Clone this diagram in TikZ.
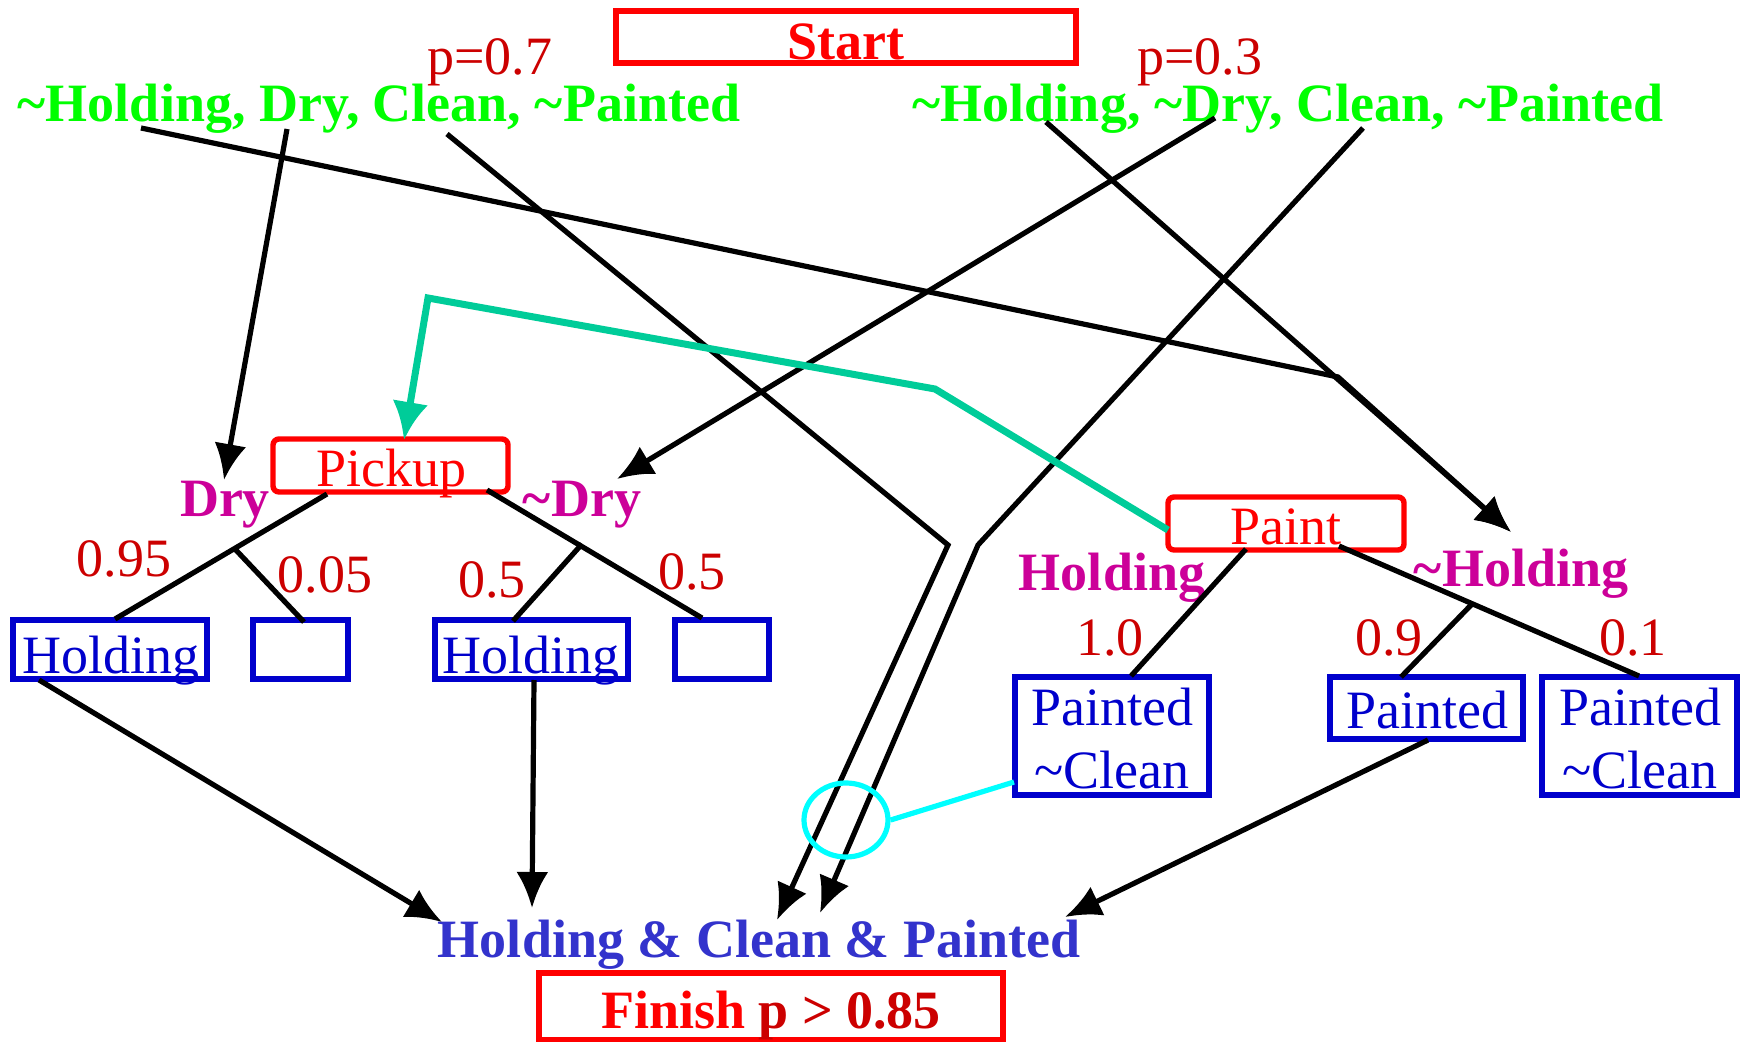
\documentclass[tikz,border=0pt]{standalone}
\usepackage{fontspec}
\setmainfont{Liberation Serif}
\usetikzlibrary{arrows.meta,shapes.geometric}

\definecolor{stategreen}{HTML}{00FF00}
\definecolor{probred}{HTML}{CC0000}
\definecolor{actred}{HTML}{FF0000}
\definecolor{condmag}{HTML}{CC0099}
\definecolor{boxblue}{HTML}{0000CC}
\definecolor{goalblue}{HTML}{3333CC}
\definecolor{linkteal}{HTML}{00CC99}
\definecolor{markcyan}{HTML}{00FFFF}

\begin{document}
\begin{tikzpicture}[x=0.5pt,y=-0.5pt,
  txt/.style={inner sep=0pt, outer sep=0pt, anchor=base, font=\fontsize{27}{31.5}\selectfont},
  btxt/.style={inner sep=0pt, outer sep=0pt, anchor=base, font=\fontsize{27}{31.5}\selectfont\bfseries},
  wire/.style={line width=2.6pt, black},
  arr/.style={wire, -{Latex[length=18pt,width=16pt]}},
  framebox/.style={draw, line width=2.7pt, inner sep=0pt, outer sep=0pt},
  actbox/.style={framebox, draw=actred, rounded corners=3pt},
  outbox/.style={framebox, draw=boxblue},
]
\useasboundingbox (0,0) rectangle (1740,1042);

% ---------- start ----------
\node[framebox, draw=actred, minimum width=230pt, minimum height=26pt] (startbox) at (846,37) {};
\node[btxt, text=actred] (starttxt) at (846,60) {Start};

\node[txt, text=probred] (p7) at (490,75) {p=0.7};
\node[txt, text=probred] (p3) at (1200,75) {p=0.3};
\node[btxt, text=stategreen] (s1) at (379,122) {\char`~Holding, Dry, Clean, \char`~Painted};
\node[btxt, text=stategreen] (s2) at (1288,122) {\char`~Holding, \char`~Dry, Clean, \char`~Painted};

% ---------- pickup action ----------
\node[actbox, minimum width=117.5pt, minimum height=26.5pt] (pickup) at (390.5,465.5) {};
\node[txt, text=actred] (pickuptxt) at (391,487) {Pickup};
\node[btxt, text=condmag] (dry) at (225,517) {Dry};
\node[btxt, text=condmag] (ndry) at (582,517) {\char`~Dry};
\node[txt, text=probred] (q95) at (124,577) {0.95};
\node[txt, text=probred] (q05) at (325,593) {0.05};
\node[txt, text=probred] (q5a) at (492,597) {0.5};
\node[txt, text=probred] (q5b) at (692,589) {0.5};

\node[outbox, minimum width=97pt, minimum height=29.5pt] (b1) at (110,649.5) {};
\node[txt, text=boxblue] (b1txt) at (111,673) {Holding};
\node[outbox, minimum width=47.5pt, minimum height=29.5pt] (b2) at (300.5,649.5) {};
\node[outbox, minimum width=96.5pt, minimum height=29.5pt] (b3) at (531.5,649.5) {};
\node[txt, text=boxblue] (b3txt) at (531,673) {Holding};
\node[outbox, minimum width=47pt, minimum height=29.5pt] (b4) at (722,649.5) {};

% ---------- paint action ----------
\node[actbox, minimum width=118pt, minimum height=26.5pt] (paint) at (1286,523.5) {};
\node[txt, text=actred] (painttxt) at (1286,545) {Paint};
\node[btxt, text=condmag] (hold) at (1112,590) {Holding};
\node[btxt, text=condmag] (nhold) at (1521,587) {\char`~Holding};
\node[txt, text=probred] (r10) at (1110,655) {1.0};
\node[txt, text=probred] (r09) at (1389,655) {0.9};
\node[txt, text=probred] (r01) at (1633,655) {0.1};

\node[outbox, minimum width=97pt, minimum height=59pt] (b5) at (1112,736) {};
\node[txt, text=boxblue] (b5a) at (1112,725) {Painted};
\node[txt, text=boxblue] (b5b) at (1112,788) {\char`~Clean};
\node[outbox, minimum width=96.5pt, minimum height=31pt] (b6) at (1426.5,708) {};
\node[txt, text=boxblue] (b6txt) at (1427,728) {Painted};
\node[outbox, minimum width=97.5pt, minimum height=59pt] (b7) at (1639.5,736) {};
\node[txt, text=boxblue] (b7a) at (1640,725) {Painted};
\node[txt, text=boxblue] (b7b) at (1640,788) {\char`~Clean};

% ---------- goal ----------
\node[btxt, text=goalblue] (goal) at (759,957) {Holding \& Clean \& Painted};
\node[framebox, draw=actred, minimum width=232pt, minimum height=33.5pt] (finish) at (771,1006.5) {};
\node[btxt] (finishtxt) at (771,1028) {\textcolor{actred}{Finish} \textcolor{probred}{p > 0.85}};

% ---------- connector end points ----------
\coordinate (s1hold) at (141,128);
\coordinate (s1dry) at (287,129);
\coordinate (s1clean) at (447,134);
\coordinate (s2hold) at (1046,122);
\coordinate (s2dry) at (1215,118);
\coordinate (s2clean) at (1363,128);
\coordinate (joinh) at (1338,377);
\coordinate (bendA) at (948,545);
\coordinate (bendB) at (978,545);
\coordinate (tipnhold) at (1511,532);
\coordinate (tipdry) at (224,480);
\coordinate (tipndry) at (617,479);
\coordinate (tipgoalA) at (777,920);
\coordinate (tipgoalB) at (820,913);
\coordinate (tipgoalL) at (442,922);
\coordinate (tipgoalM) at (532,908);
\coordinate (tipgoalR) at (1065,917);

\coordinate (pkL) at (327,494);
\coordinate (pkLm) at (234,548);
\coordinate (pkR) at (487,490);
\coordinate (pkRm) at (582,544);
\coordinate (b1top) at (115,619);
\coordinate (b2top) at (304,622);
\coordinate (b3top) at (513,621);
\coordinate (b4top) at (702,618);
\coordinate (b1bot) at (39,680);
\coordinate (b3bot) at (534,680);

\coordinate (ptL) at (1246,549);
\coordinate (ptR) at (1339,546);
\coordinate (ptRm) at (1473,603);
\coordinate (b5top) at (1131,676);
\coordinate (b6top) at (1401,677);
\coordinate (b7top) at (1639,676);
\coordinate (b6bot) at (1428,740);

\coordinate (tealA) at (1168,530);
\coordinate (tealB) at (935,389);
\coordinate (tealC) at (428,298);
\coordinate (tealtip) at (404,440);

% ---------- state arrows ----------
\draw[arr] (s1hold) -- (joinh) -- (tipnhold);
\draw[arr] (s2hold) -- (tipnhold);
\draw[arr] (s1dry) -- (tipdry);
\draw[arr] (s2dry) -- (tipndry);
\draw[arr] (s1clean) -- (bendA) -- (tipgoalA);
\draw[arr] (s2clean) -- (bendB) -- (tipgoalB);

% ---------- outcome trees ----------
\draw[wire] (pkL) -- (b1top);
\draw[wire] (pkLm) -- (b2top);
\draw[wire] (pkR) -- (b4top);
\draw[wire] (pkRm) -- (b3top);
\draw[wire] (ptL) -- (b5top);
\draw[wire] (ptR) -- (b7top);
\draw[wire] (ptRm) -- (b6top);

% ---------- into the goal ----------
\draw[arr] (b1bot) -- (tipgoalL);
\draw[arr] (b3bot) -- (tipgoalM);
\draw[arr] (b6bot) -- (tipgoalR);

% ---------- causal link and threat marker ----------
\draw[linkteal, line width=3.5pt, -{Latex[length=19pt,width=18pt]}]
  (tealA) -- (tealB) -- (tealC) -- (tealtip);
\node[draw=markcyan, line width=2.6pt, ellipse, minimum width=42pt, minimum height=37pt, inner sep=0pt] (threat) at (846,820) {};
\coordinate (b5left) at (1014,782);
\draw[markcyan, line width=2.6pt] (threat.east) -- (b5left);
\end{tikzpicture}
\end{document}
